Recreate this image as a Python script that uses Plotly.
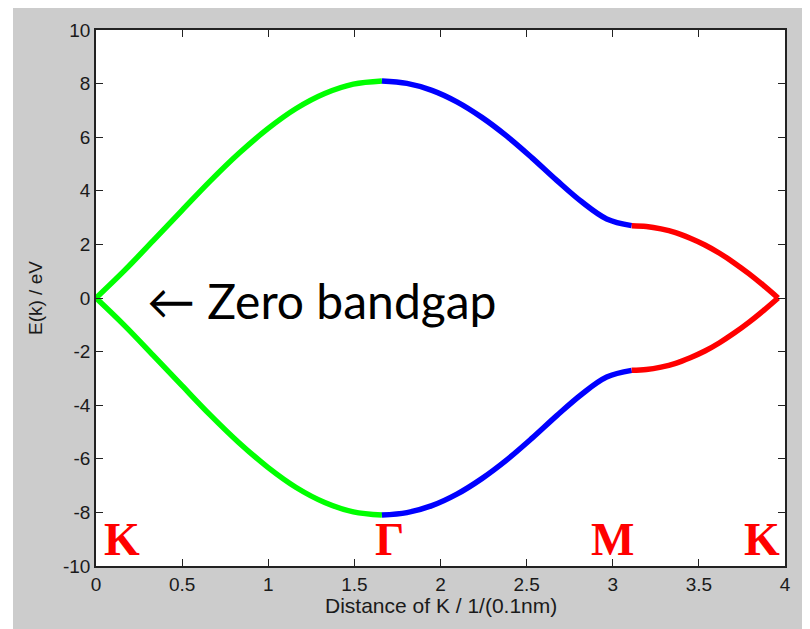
import plotly.graph_objects as go

# K -> Gamma (green)
x_kg = [0.0, 0.166, 0.332, 0.498, 0.664, 0.83, 0.996, 1.162, 1.328, 1.494, 1.66]
e_kg_up = [0.0, 1.03, 2.14, 3.26, 4.37, 5.40, 6.31, 7.07, 7.63, 7.98, 8.10]
e_kg_dn = [0.0, -1.03, -2.14, -3.26, -4.37, -5.40, -6.31, -7.07, -7.63, -7.98, -8.10]

# Gamma -> M (blue)
x_gm = [1.66, 1.805, 1.95, 2.095, 2.24, 2.385, 2.53, 2.675, 2.82, 2.965, 3.11]
e_gm_up = [8.10, 8.01, 7.75, 7.32, 6.74, 6.04, 5.24, 4.39, 3.59, 2.95, 2.70]
e_gm_dn = [-8.10, -8.01, -7.75, -7.32, -6.74, -6.04, -5.24, -4.39, -3.59, -2.95, -2.70]

# M -> K (red)
x_mk = [3.11, 3.195, 3.28, 3.365, 3.45, 3.535, 3.62, 3.705, 3.79, 3.875, 3.96]
e_mk_up = [2.70, 2.67, 2.58, 2.44, 2.23, 1.98, 1.67, 1.31, 0.91, 0.47, 0.0]
e_mk_dn = [-2.70, -2.67, -2.58, -2.44, -2.23, -1.98, -1.67, -1.31, -0.91, -0.47, 0.0]

x_tickvals = [0, 0.5, 1, 1.5, 2, 2.5, 3, 3.5, 4]
x_ticktext = ["0", "0.5", "1", "1.5", "2", "2.5", "3", "3.5", "4"]
y_tickvals = [10, 8, 6, 4, 2, 0, -2, -4, -6, -8, -10]
y_ticktext = ["10", "8", "6", "4", "2", "0", "-2", "-4", "-6", "-8", "-10"]

point_labels = ["K", "Γ", "M", "K"]
point_label_x = [0.15, 1.705, 3.0, 3.865]

fig = go.Figure()
segments = [
    (x_kg, e_kg_up, "#00ff00"), (x_kg, e_kg_dn, "#00ff00"),
    (x_gm, e_gm_up, "#0000ff"), (x_gm, e_gm_dn, "#0000ff"),
    (x_mk, e_mk_up, "#ff0000"), (x_mk, e_mk_dn, "#ff0000"),
]
for xs, ys, c in segments:
    fig.add_trace(go.Scatter(x=xs, y=ys, mode="lines",
                             line=dict(color=c, width=5.5, shape="spline"),
                             showlegend=False, hoverinfo="skip"))

tickfont = dict(family="Liberation Sans", size=19, color="#1a1a1a")
fig.update_xaxes(range=[0, 4], tickvals=x_tickvals, ticktext=x_ticktext,
                 ticks="inside", ticklen=7, tickcolor="#222", showline=True,
                 linecolor="#222", linewidth=1.5, mirror="ticks", showgrid=False,
                 zeroline=False, tickfont=tickfont)
fig.update_yaxes(range=[-10, 10], tickvals=y_tickvals, ticktext=y_ticktext,
                 ticks="inside", ticklen=7, tickcolor="#222", showline=True,
                 linecolor="#222", linewidth=1.5, mirror="ticks", showgrid=False,
                 zeroline=False, tickfont=tickfont)

annotations = []
for lab, lx in zip(point_labels, point_label_x):
    annotations.append(dict(x=lx, y=-9, xref="x", yref="y", text="<b>%s</b>" % lab,
                            showarrow=False, xanchor="center", yanchor="middle",
                            font=dict(family="Liberation Serif", size=46, color="#ff0000")))
annotations.append(dict(x=0.284, y=-0.1, xref="x", yref="y", text="← Zero bandgap",
                        showarrow=False, xanchor="left", yanchor="middle",
                        font=dict(family="Lato", size=48, color="#000000")))
annotations.append(dict(x=(35 - 96) / 689, y=0.5, xref="paper", yref="paper",
                        text="E(k) / eV", textangle=-90, showarrow=False,
                        xanchor="center", yanchor="middle",
                        font=dict(family="Liberation Sans", size=19, color="#1a1a1a")))
annotations.append(dict(x=0.5, y=(566 - 606) / 543, xref="paper", yref="paper",
                        text="Distance of K / 1/(0.1nm)", showarrow=False,
                        xanchor="center", yanchor="middle",
                        font=dict(family="Liberation Sans", size=21, color="#1a1a1a")))

shapes = [
    dict(type="rect", xref="paper", yref="paper", x0=-0.3, x1=(13 - 96) / 689,
         y0=-0.3, y1=1.2, fillcolor="white", line=dict(width=0)),
]

fig.update_layout(width=802, height=621, margin=dict(l=88, r=25, t=15, b=63),
                  paper_bgcolor="#cccccc", plot_bgcolor="white",
                  annotations=annotations, shapes=shapes)
fig.write_html("out.html")
